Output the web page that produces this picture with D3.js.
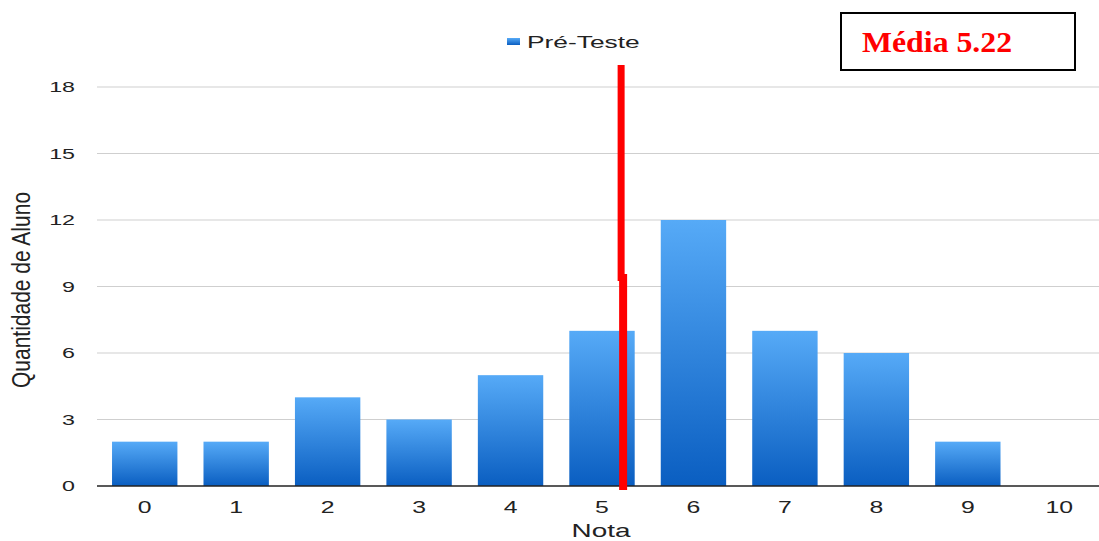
<!DOCTYPE html>
<html>
<head>
<meta charset="utf-8">
<script src="https://cdn.jsdelivr.net/npm/d3@7"></script>
<style>
  html, body { margin: 0; padding: 0; background: #fff; }
  svg { display: block; }
</style>
</head>
<body>
<svg id="chart" width="1099" height="541"></svg>
<script>
// Distribution of pre-test grades
const notas = ["0", "1", "2", "3", "4", "5", "6", "7", "8", "9", "10"];
const quantidades = [2, 2, 4, 3, 5, 7, 12, 7, 6, 2, 0];
const yTicks = [0, 3, 6, 9, 12, 15, 18];
const serieNome = "Pré-Teste";
const media = 5.22;

const W = 1099, H = 541;
const plot = { left: 99, right: 1105, top: 87, bottom: 486 };
const stretch = 1.55; // wide glyph look of the labels

const svg = d3.select("#chart");

const defs = svg.append("defs");
const grad = defs.append("linearGradient")
  .attr("id", "barGrad").attr("x1", 0).attr("y1", 0).attr("x2", 0).attr("y2", 1);
grad.append("stop").attr("offset", "0%").attr("stop-color", "#56aaf7");
grad.append("stop").attr("offset", "100%").attr("stop-color", "#0a5ec1");

const x = d3.scaleBand().domain(notas).range([plot.left, plot.right])
  .paddingInner(0.285).paddingOuter(0.1425);
const y = d3.scaleLinear().domain([0, 18]).range([plot.bottom, plot.top]);

// horizontal gridlines
svg.append("g")
  .selectAll("line").data(yTicks.filter(d => d > 0)).join("line")
  .attr("x1", plot.left - 2).attr("x2", W)
  .attr("y1", d => y(d)).attr("y2", d => y(d))
  .attr("stroke", "#cfcfcf").attr("stroke-width", 1);

// y tick labels
svg.append("g")
  .selectAll("text").data(yTicks).join("text")
  .attr("transform", d => `translate(75,${y(d)}) scale(${stretch},1)`)
  .attr("text-anchor", "end").attr("dominant-baseline", "central")
  .attr("font-family", "Liberation Sans, Arial, sans-serif")
  .attr("font-size", 15).attr("fill", "#222")
  .text(d => d);

// bars
svg.append("g")
  .selectAll("rect").data(notas.map((n, i) => ({ n, v: quantidades[i] }))).join("rect")
  .attr("x", d => x(d.n)).attr("width", x.bandwidth())
  .attr("y", d => y(d.v)).attr("height", d => y(0) - y(d.v))
  .attr("fill", "url(#barGrad)");

// x axis baseline
svg.append("line")
  .attr("x1", plot.left - 2).attr("x2", W)
  .attr("y1", y(0)).attr("y2", y(0))
  .attr("stroke", "#222").attr("stroke-width", 1.5);

// x tick labels
svg.append("g")
  .selectAll("text").data(notas).join("text")
  .attr("transform", d => `translate(${x(d) + x.bandwidth() / 2},507) scale(${stretch},1)`)
  .attr("text-anchor", "middle").attr("dominant-baseline", "central")
  .attr("font-family", "Liberation Sans, Arial, sans-serif")
  .attr("font-size", 16).attr("fill", "#222")
  .text(d => d);

// axis titles
svg.append("text")
  .attr("transform", `translate(601,537) scale(${stretch},1)`)
  .attr("text-anchor", "middle")
  .attr("font-family", "Liberation Sans, Arial, sans-serif")
  .attr("font-size", 18).attr("fill", "#222")
  .text("Nota");

svg.append("text")
  .attr("transform", "translate(30,290) scale(1.2,1) rotate(-90)")
  .attr("text-anchor", "middle")
  .attr("font-family", "Liberation Sans Narrow, Liberation Sans, Arial, sans-serif")
  .attr("font-size", 21).attr("fill", "#222")
  .text("Quantidade de Aluno");

// legend
svg.append("rect")
  .attr("x", 507).attr("y", 38).attr("width", 13).attr("height", 7)
  .attr("fill", "url(#barGrad)");
svg.append("text")
  .attr("transform", `translate(527,48) scale(${stretch},1)`)
  .attr("font-family", "Liberation Sans, Arial, sans-serif")
  .attr("font-size", 17).attr("fill", "#222")
  .text(serieNome);

// mean marker
const xMedia = d3.scaleLinear().domain([0, 10])
  .range([x("0") + x.bandwidth() / 2, x("10") + x.bandwidth() / 2]);
const mx = xMedia(media);
svg.append("line")
  .attr("x1", mx - 1).attr("x2", mx - 1).attr("y1", 65).attr("y2", 281)
  .attr("stroke", "#ff0000").attr("stroke-width", 7);
svg.append("line")
  .attr("x1", mx + 1).attr("x2", mx + 1).attr("y1", 274).attr("y2", 490)
  .attr("stroke", "#ff0000").attr("stroke-width", 8);

// mean annotation box
svg.append("rect")
  .attr("x", 841).attr("y", 13).attr("width", 234).attr("height", 57)
  .attr("fill", "#fff").attr("stroke", "#000").attr("stroke-width", 2);
svg.append("text")
  .attr("transform", "translate(862,52) scale(1.06,1)")
  .attr("font-family", "Liberation Serif, Times New Roman, serif")
  .attr("font-weight", "bold").attr("font-size", 30).attr("fill", "#ff0000")
  .text(`Média ${media}`);
</script>
</body>
</html>
